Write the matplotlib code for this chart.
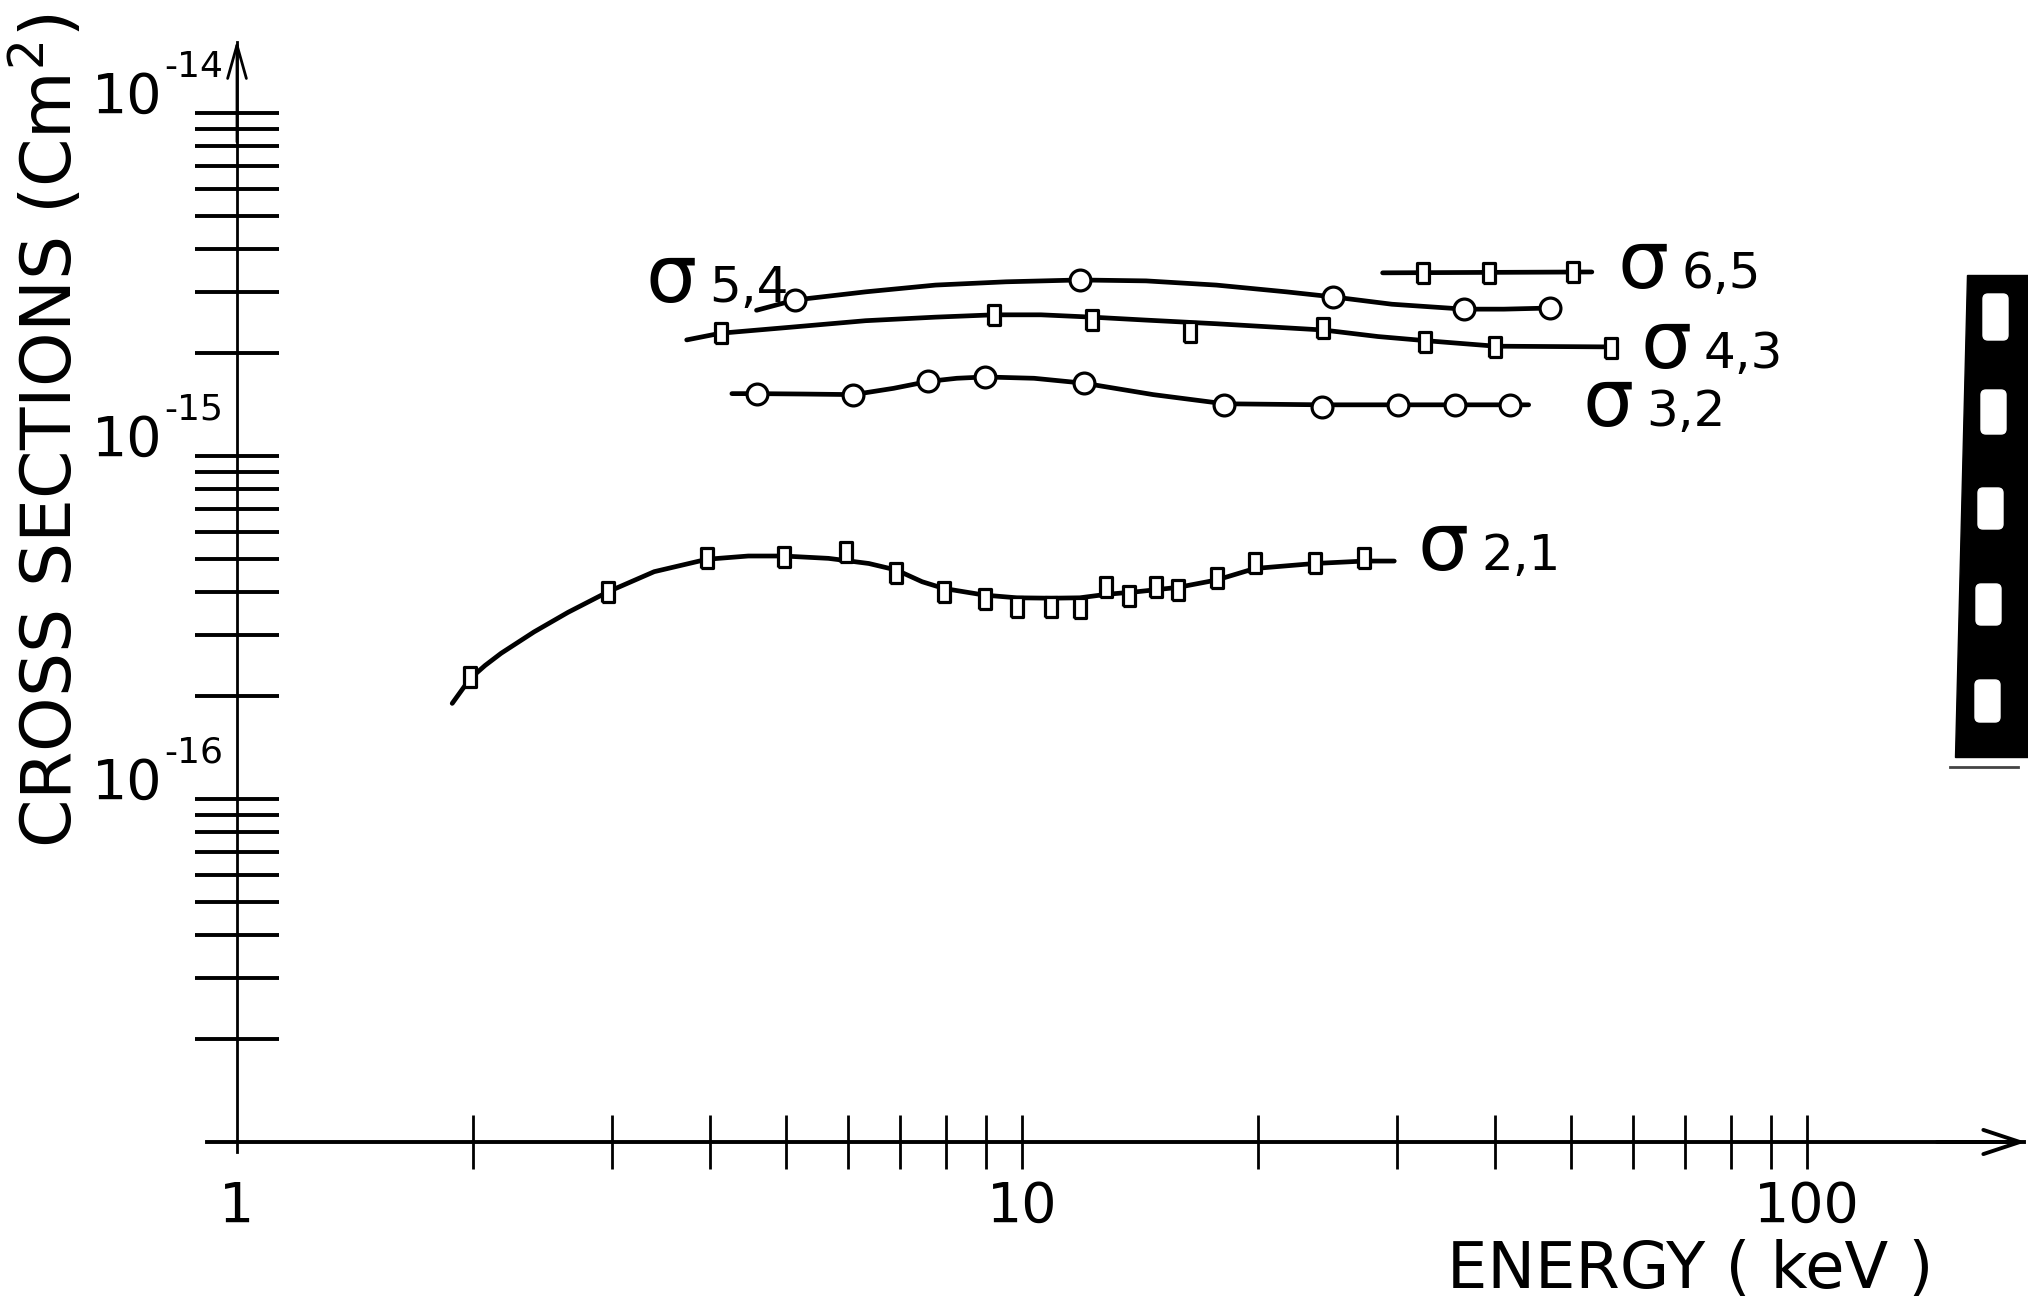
import matplotlib.pyplot as plt
from matplotlib.patches import Polygon, FancyBboxPatch
from matplotlib.transforms import Affine2D
from matplotlib.ticker import FixedLocator, NullFormatter

W, H = 2028, 1298

# values: energy (keV), cross section (cm^2)
# sigma 2,1 -- square markers
e21 = [1.98, 2.97, 3.97, 4.97, 5.96, 6.92, 7.95, 8.96, 9.85, 10.9, 11.85, 12.8,
       13.7, 14.8, 15.8, 17.7, 19.8, 23.6, 27.3]
s21 = [2.27e-16, 4.02e-16, 5.03e-16, 5.08e-16, 5.26e-16, 4.57e-16, 4.0e-16, 3.82e-16,
       3.64e-16, 3.62e-16, 3.6e-16, 4.14e-16, 3.91e-16, 4.14e-16, 4.07e-16, 4.4e-16,
       4.89e-16, 4.87e-16, 5.03e-16]
# hand drawn curve through them
c21_e = [1.88, 1.98, 2.07, 2.17, 2.39, 2.64, 2.97, 3.40, 3.97, 4.48, 4.97, 5.67, 6.38,
         6.92, 7.46, 7.95, 8.96, 9.85, 10.9, 11.85, 12.8, 14.0, 15.8, 17.7, 19.8, 23.6,
         27.3, 29.8]
c21_s = [1.90e-16, 2.24e-16, 2.45e-16, 2.66e-16, 3.07e-16, 3.50e-16, 4.02e-16, 4.60e-16,
         5.0e-16, 5.11e-16, 5.11e-16, 5.03e-16, 4.86e-16, 4.65e-16, 4.30e-16, 4.11e-16,
         3.93e-16, 3.86e-16, 3.85e-16, 3.86e-16, 3.95e-16, 4.02e-16, 4.14e-16, 4.35e-16,
         4.70e-16, 4.86e-16, 4.94e-16, 4.94e-16]

# sigma 3,2 -- circles
e32 = [4.59, 6.10, 7.60, 8.97, 12.0, 18.1, 24.1, 30.1, 35.6, 41.9]
s32 = [1.52e-15, 1.51e-15, 1.65e-15, 1.70e-15, 1.63e-15, 1.41e-15, 1.39e-15, 1.41e-15,
       1.41e-15, 1.41e-15]
c32_e = [4.27, 4.59, 5.25, 6.10, 6.86, 7.60, 8.26, 8.97, 10.36, 12.0, 14.69, 18.1, 24.1,
         30.1, 35.6, 44.2]
c32_s = [1.52e-15, 1.52e-15, 1.516e-15, 1.51e-15, 1.575e-15, 1.65e-15, 1.685e-15, 1.70e-15,
         1.685e-15, 1.63e-15, 1.51e-15, 1.42e-15, 1.41e-15, 1.41e-15, 1.41e-15, 1.41e-15]

# sigma 4,3 -- squares
e43 = [4.13, 9.21, 12.28, 16.35, 24.2, 32.6, 40.1, 56.2]
s43 = [2.28e-15, 2.58e-15, 2.49e-15, 2.30e-15, 2.36e-15, 2.15e-15, 2.08e-15, 2.06e-15]
c43_e = [3.74, 4.13, 5.14, 6.32, 7.76, 9.21, 10.57, 12.28, 14.39, 17.68, 24.2, 28.4,
         32.6, 40.1, 56.2]
c43_s = [2.18e-15, 2.28e-15, 2.38e-15, 2.48e-15, 2.54e-15, 2.58e-15, 2.58e-15, 2.54e-15,
         2.49e-15, 2.43e-15, 2.33e-15, 2.23e-15, 2.17e-15, 2.09e-15, 2.08e-15]

# sigma 5,4 -- circles
e54 = [5.14, 11.84, 24.9, 36.6, 47.0]
s54 = [2.85e-15, 3.26e-15, 2.91e-15, 2.68e-15, 2.70e-15]
c54_e = [4.59, 5.14, 6.32, 7.76, 9.54, 11.84, 14.39, 17.68, 21.72, 24.9, 29.6, 36.6,
         41.1, 47.0]
c54_s = [2.66e-15, 2.85e-15, 3.01e-15, 3.15e-15, 3.22e-15, 3.26e-15, 3.24e-15, 3.15e-15,
         3.01e-15, 2.91e-15, 2.77e-15, 2.68e-15, 2.68e-15, 2.70e-15]

# sigma 6,5 -- squares
e65 = [32.4, 39.4, 50.3]
s65 = [3.42e-15, 3.42e-15, 3.44e-15]
c65_e = [28.8, 53.2]
c65_s = [3.42e-15, 3.44e-15]

# curve labels (left edge of the sigma, baseline)
lab_txt = ['5,4', '6,5', '4,3', '3,2', '2,1']
lab_e = [3.31, 57.3, 61.3, 51.8, 31.9]
lab_s = [2.81e-15, 3.09e-15, 1.81e-15, 1.22e-15, 4.66e-16]

x_major = [1, 10, 100]
x_major_lab = ['1', '10', '100']
x_minor = [2, 3, 4, 5, 6, 7, 8, 9, 20, 30, 40, 50, 60, 70, 80, 90]
y_major = [1e-16, 1e-15, 1e-14]
y_exp = ['-16', '-15', '-14']       # raised exponent written next to a big "10"
y_minor = [m * 10.0 ** p for p in (-17, -16, -15) for m in range(2, 10)]

plt.rcParams['font.family'] = ['DejaVu Sans']
plt.rcParams['mathtext.fontset'] = 'dejavusans'

fig = plt.figure(figsize=(W / 100, H / 100), dpi=100)
ax = fig.add_axes([0, 0, 1, 1])
ax.set_xscale('log')
ax.set_yscale('log')
# axis origin (1 keV, 1e-17) sits at pixel (237, 1142); decades are 785 px wide, 343 px high
ax.set_xlim(10 ** (-237 / 785), 10 ** ((W - 237) / 785))
ax.set_ylim(10 ** (-17 - (H - 1142) / 343), 10 ** (-17 + 1142 / 343))
ax.patch.set_visible(False)

for s in ['top', 'right']:
    ax.spines[s].set_visible(False)
ax.spines['left'].set_position(('data', 1))
ax.spines['bottom'].set_position(('data', 1e-17))
ax.spines['left'].set_bounds(10 ** (-17 - 10 / 343), 10 ** (-17 + 1100 / 343))
ax.spines['bottom'].set_bounds(10 ** (-30 / 785), 10 ** (1787 / 785))
ax.spines['left'].set_linewidth(2.0)
ax.spines['bottom'].set_linewidth(2.8)

ax.set_xticks(x_major, x_major_lab)
ax.xaxis.set_minor_locator(FixedLocator(x_minor))
ax.xaxis.set_minor_formatter(NullFormatter())
ax.tick_params(axis='x', which='both', direction='inout', length=39, width=2.0,
               labelsize=40, pad=8)
ax.xaxis.get_major_ticks()[0].tick1line.set_visible(False)

ax.set_yticks(y_major)
ax.yaxis.set_minor_locator(FixedLocator(y_minor))
ax.yaxis.set_minor_formatter(NullFormatter())
ax.tick_params(axis='y', which='both', direction='inout', length=61, width=2.8,
               labelleft=False)
for y, ex in zip(y_major, y_exp):
    ax.annotate('10', (1, y), xytext=(-54, 0), textcoords='offset points',
                ha='right', va='baseline', fontsize=40)
    ax.annotate(ex, (1, y), xytext=(-52.5, 26), textcoords='offset points',
                ha='left', va='baseline', fontsize=26)

# arrow heads on both axes
ax.annotate('', xy=(1, 10 ** (-17 + 1102 / 343)), xytext=(1, 10 ** (-17 + 1000 / 343)),
            arrowprops=dict(arrowstyle='->,head_length=1.6,head_width=0.45',
                            mutation_scale=15, lw=2.0, shrinkA=0, shrinkB=0))
ax.annotate('', xy=(10 ** (1789 / 785), 1e-17), xytext=(10 ** (1700 / 785), 1e-17),
            arrowprops=dict(arrowstyle='->,head_length=1.75,head_width=0.58',
                            mutation_scale=15, lw=2.8, shrinkA=0, shrinkB=0))

ax.set_xlabel('ENERGY ( keV )', fontsize=46, va='center')
ax.xaxis.set_label_coords(1690 / W, 1 - 1270 / H)
ax.set_ylabel('CROSS SECTIONS (Cm$^2$)', fontsize=50, va='baseline', ha='center')
ax.yaxis.set_label_coords(72 / W, 1 - 431 / H)

rect = [(-0.55, -1), (0.55, -1), (0.55, 1), (-0.55, 1), (-0.55, -1)]
sq = dict(ls='none', marker=rect, ms=15, mfc='white', mec='black', mew=2.3, zorder=3)
ci = dict(ls='none', marker='o', ms=15, mfc='white', mec='black', mew=2.3, zorder=3)
line = dict(color='black', lw=3.4, solid_capstyle='round', solid_joinstyle='round',
            zorder=2)

ax.plot(c21_e, c21_s, **line)
ax.plot(e21, s21, **sq)
ax.plot(c32_e, c32_s, **line)
ax.plot(e32, s32, **ci)
ax.plot(c43_e, c43_s, **line)
ax.plot(e43, s43, **sq)
ax.plot(c54_e, c54_s, **line)
ax.plot(e54, s54, **ci)
ax.plot(c65_e, c65_s, **line)
ax.plot(e65, s65, **sq)

for x, y, t in zip(lab_e, lab_s, lab_txt):
    ax.text(x, y, 'σ', fontsize=58, ha='left', va='baseline')
    ax.annotate(t, (x, y), xytext=(46, 0), textcoords='offset points',
                fontsize=36, ha='left', va='baseline')

# film strip edge visible on the scan
px = Affine2D().scale(1 / W, -1 / H).translate(0, 1) + fig.transFigure
fig.add_artist(Polygon([(1967, 275), (W, 275), (W, 757), (1955, 757)], closed=True,
                       transform=px, color='black'))
for hx, hy, hh in [(1983, 294, 46), (1981, 390, 44), (1978, 488, 41), (1976, 584, 41),
                   (1975, 680, 42)]:
    fig.add_artist(FancyBboxPatch((hx, hy), 25, hh, boxstyle='round,pad=0,rounding_size=5',
                                  transform=px, color='white'))
fig.add_artist(plt.Line2D([1950, 2018], [767, 767], transform=px, color='#444444', lw=2))

fig.savefig('out.png', dpi=100)
